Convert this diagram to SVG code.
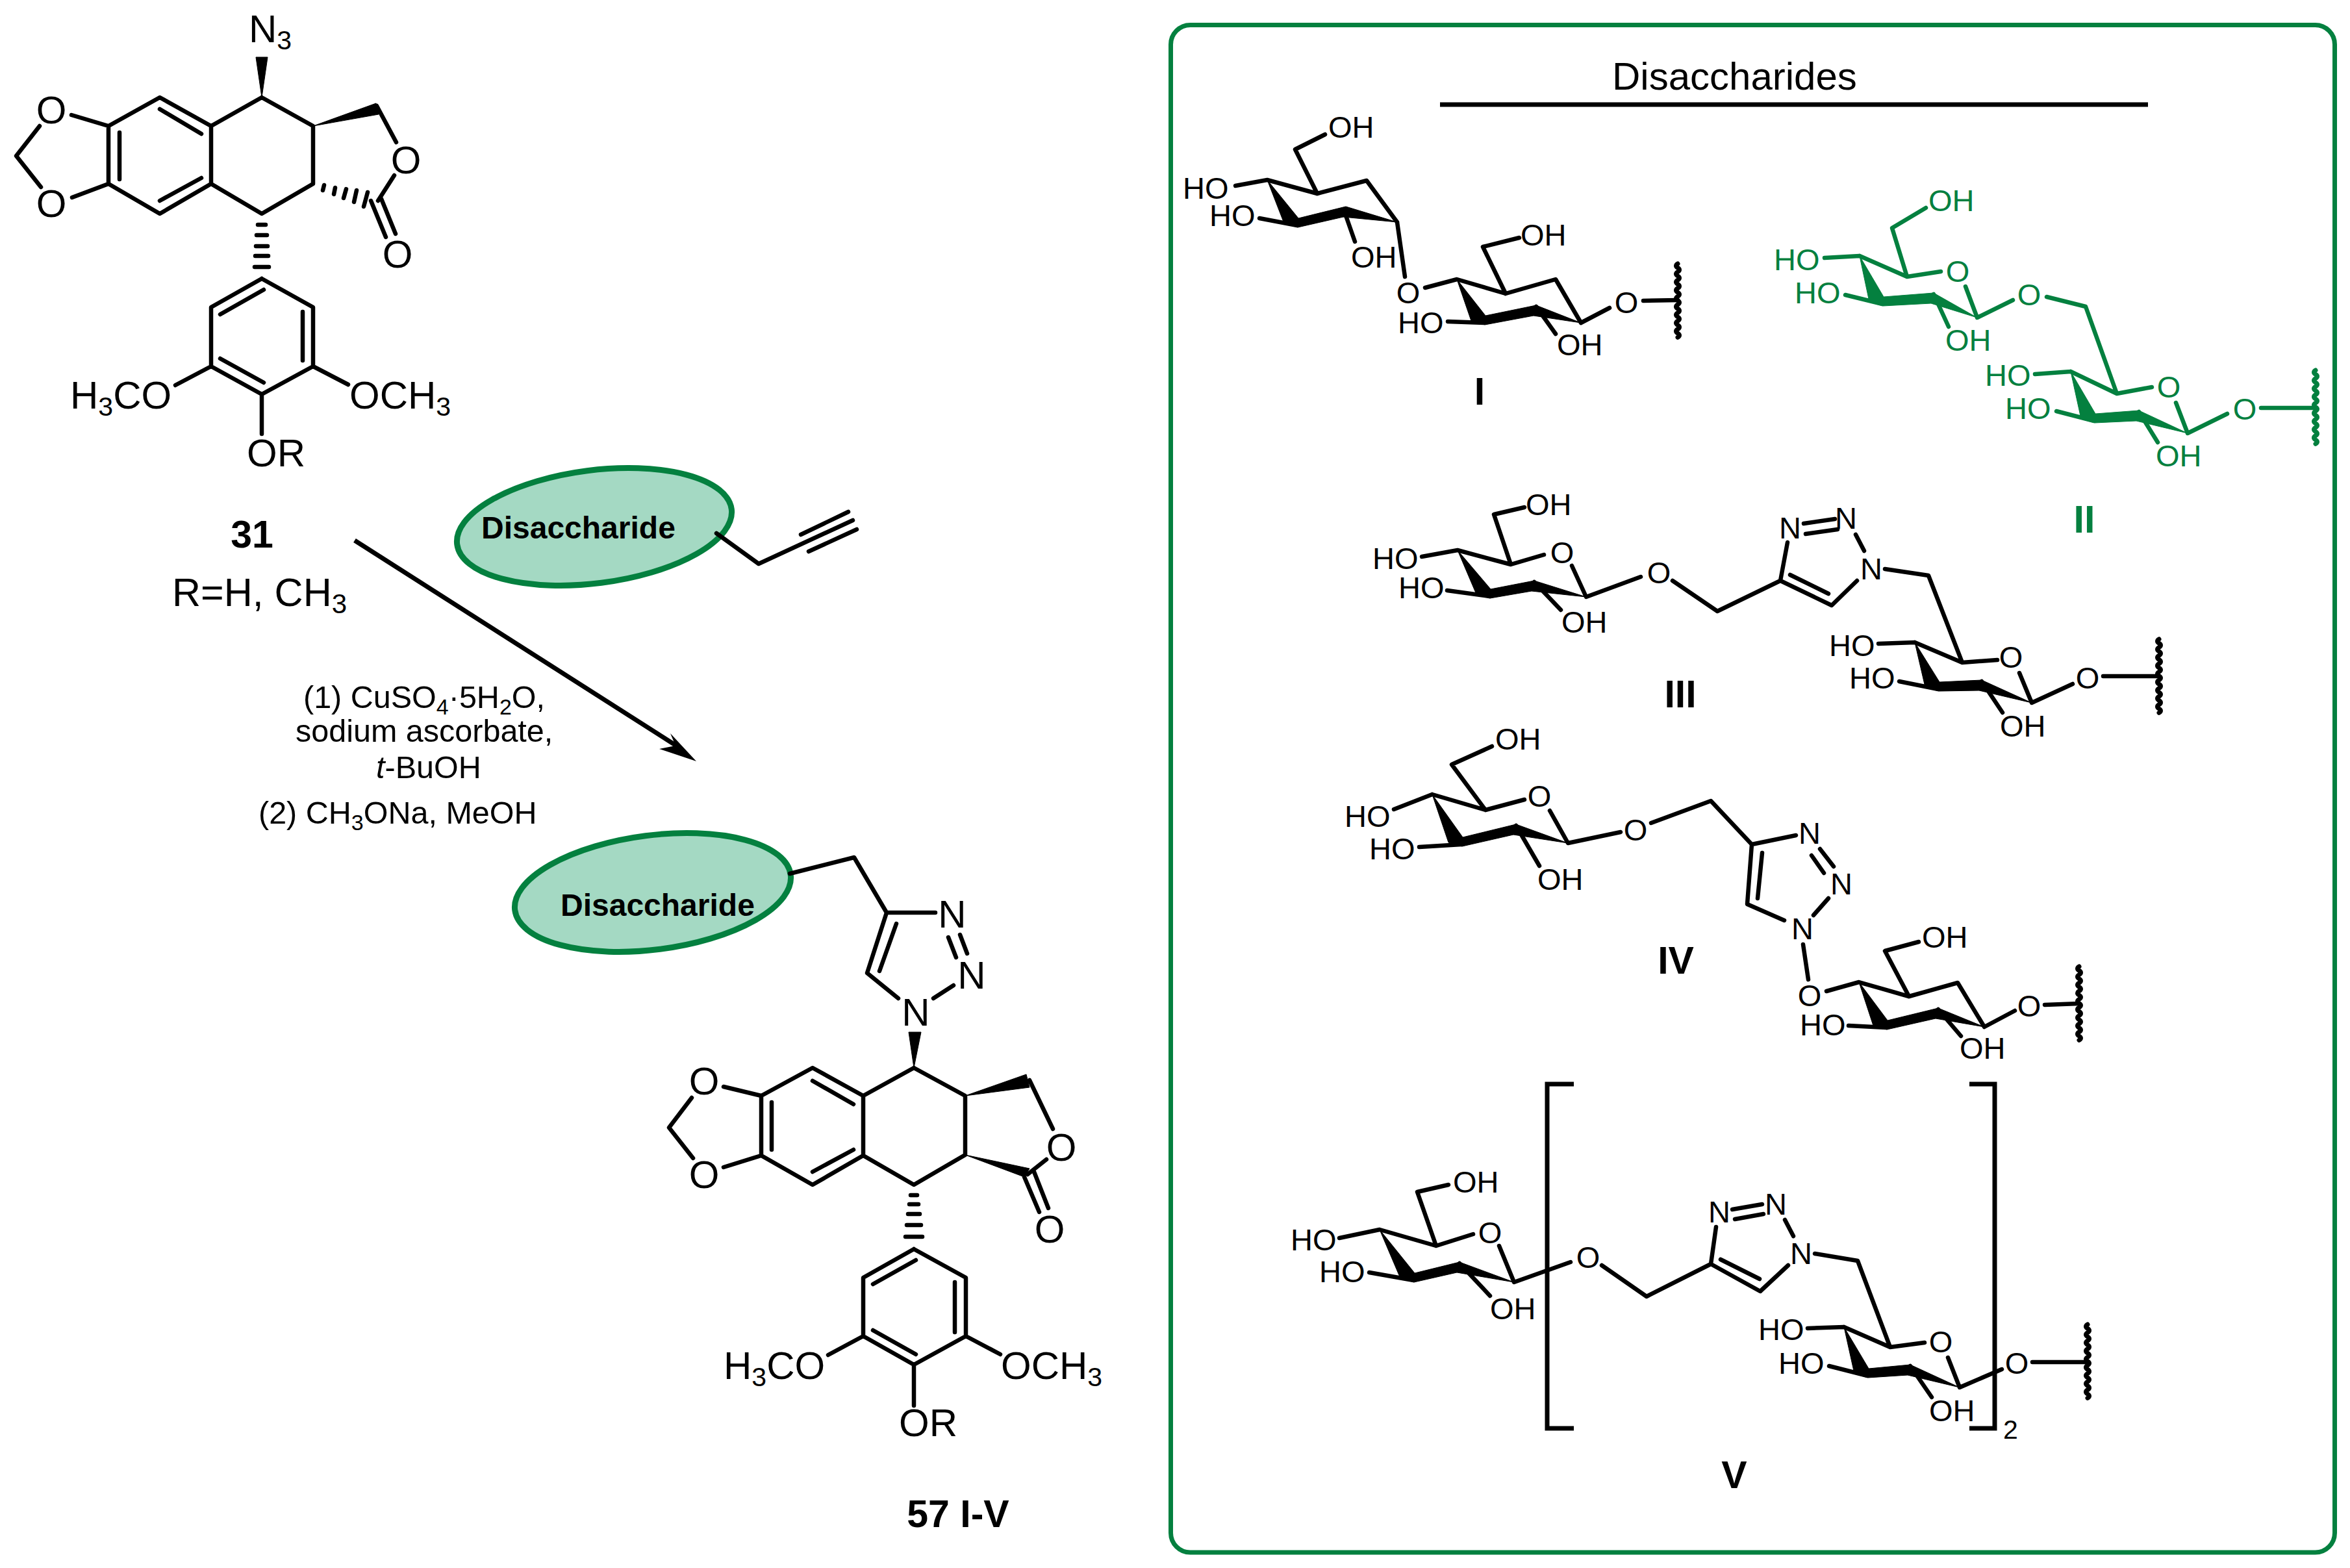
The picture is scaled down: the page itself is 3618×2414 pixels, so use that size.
<svg xmlns="http://www.w3.org/2000/svg" width="3618" height="2414" viewBox="0 0 3618 2414">
<style>
text{font-family:"Liberation Sans",Arial,sans-serif;fill:currentColor}
.b{fill:none;stroke:currentColor;stroke-width:6.5;stroke-linecap:round;stroke-linejoin:round}
.p{fill:none;stroke:currentColor;stroke-width:6.5;stroke-linecap:round;stroke-linejoin:round}
.w{fill:currentColor;stroke:currentColor;stroke-width:1;stroke-linejoin:round}
.f58{font-size:60px}.f60{font-size:61px}.f48{font-size:48.5px}.f46{font-size:47px}
.sub{font-size:41px}.s34{font-size:34px}
.lb{font-size:59px;font-weight:bold;text-anchor:middle}
.m{text-anchor:middle}
.e{fill:#a4d9c3;stroke:#04803f;stroke-width:9}
.dt{font-size:48px;font-weight:bold}
.g{color:#04803f}
</style>
<defs>
<path id="wavy" fill="none" stroke="currentColor" stroke-width="7" stroke-linecap="round" d="M0 0q-5 3.1 0 6.3q5 3.1 0 6.3q-5 3.1 0 6.3q5 3.1 0 6.3q-5 3.1 0 6.3q5 3.1 0 6.3q-5 3.1 0 6.3q5 3.1 0 6.3q-5 3.1 0 6.3q5 3.1 0 6.3q-5 3.1 0 6.3q5 3.1 0 6.3q-5 3.1 0 6.3q5 3.1 0 6.3q-5 3.1 0 6.3q5 3.1 0 6.3q-5 3.1 0 6.3q5 3.1 0 6.3"/>
</defs>
<g id="compound-31">
<path class="b" d="M403 150L482 194L482 283L403 329L325 283L325 194L403 150M325 194L246 150L167 194L167 283L246 329L325 283M110 177L167 194M111 304L167 283M61 194L25 240L63 288M246 168L310 206M184 204L184 276M246 309L310 274M580 163L610 219M607 270L582 309M571 309L594 365M587 306L609 360M403 429L482 473L482 564L403 607L325 564L325 473L403 429M339 484L406 446M466 480L466 555M339 552L406 589M325 564L270 593M482 564L536 592M403 607L403 668M397 346L409 346M395 362L411 362M394 379L412 379M393 394L413 394M392 411L414 411M499 285L497 293M516 289L514 299M533 291L529 305M549 293L545 311M566 296L560 318"/>
<polygon class="w" points="403,150 394,88 412,88"/>
<polygon class="w" points="482,194 579,159 583,176"/>
<text class="f58" x="383" y="65">N<tspan class="sub" dy="11">3</tspan></text>
<text class="f58 m" x="79" y="190">O</text>
<text class="f58 m" x="79" y="334">O</text>
<text class="f58 m" x="625" y="267">O</text>
<text class="f58 m" x="612" y="412">O</text>
<text class="f58" x="108" y="629">H<tspan class="sub" dy="11">3</tspan><tspan dy="-11">CO</tspan></text>
<text class="f58" x="538" y="629">OCH<tspan class="sub" dy="11">3</tspan></text>
<text class="f58" x="380" y="718">OR</text>
<text class="lb" x="388" y="843">31</text>
<text class="f60" x="265" y="933">R=H, CH<tspan font-size="42" dy="11">3</tspan></text>
</g>
<g id="alkyne">
<ellipse class="e" cx="915" cy="811" rx="213" ry="87" transform="rotate(-7.3 915 811)"/>
<text class="dt" x="741" y="829">Disaccharide</text>
<path class="b" d="M1103 821L1168 868L1313 801M1233 823L1306 788M1245 849L1319 815"/>
</g>
<g id="reaction">
<line x1="546" y1="832" x2="1049" y2="1153" stroke="#000" stroke-width="7"/>
<polygon points="1072,1172 1032,1129 1040,1148 1015,1153"/>
<text class="f48" x="467" y="1090">(1) CuSO<tspan class="s34" dy="10">4</tspan><tspan dy="-10">·5H</tspan><tspan class="s34" dy="10">2</tspan><tspan dy="-10">O,</tspan></text>
<text class="f48" x="455" y="1142">sodium ascorbate,</text>
<text class="f48" x="579" y="1198"><tspan font-style="italic">t</tspan>-BuOH</text>
<text class="f48" x="398" y="1268">(2) CH<tspan class="s34" dy="10">3</tspan><tspan dy="-10">ONa, MeOH</tspan></text>
</g>
<g id="compound-57">
<ellipse class="e" cx="1005" cy="1374" rx="214" ry="88" transform="rotate(-7.3 1005 1374)"/>
<text class="dt" x="863" y="1410">Disaccharide</text>
<path class="b" d="M1216 1345L1315 1320L1365 1405L1440 1405M1460 1443L1472 1474M1478 1439L1489 1468M1468 1517L1437 1537M1365 1405L1335 1498L1383 1537M1380 1422L1354 1495M1407 1644L1486 1687L1486 1778L1407 1824L1329 1779L1329 1687L1407 1644M1329 1687L1251 1644L1172 1687L1172 1779L1251 1824L1329 1779M1114 1673L1172 1687M1114 1797L1172 1779M1065 1690L1030 1736L1067 1783M1251 1664L1314 1700M1188 1697L1188 1770M1251 1804L1314 1770M1585 1663L1621 1738M1611 1785L1582 1808M1577 1812L1600 1866M1592 1804L1614 1860M1407 1923L1487 1967L1487 2057L1407 2101L1329 2057L1329 1967L1407 1923M1344 1977L1410 1940M1470 1974L1470 2051M1344 2048L1410 2085M1329 2057L1275 2086M1487 2057L1540 2085M1407 2101L1407 2164M1402 1840L1412 1840M1400 1854L1414 1854M1398 1869L1416 1869M1396 1886L1418 1886M1394 1904L1420 1904"/>
<polygon class="w" points="1407,1644 1399,1589 1418,1589"/>
<polygon class="w" points="1486,1687 1580,1654 1585,1674"/>
<polygon class="w" points="1486,1778 1585,1799 1577,1812"/>
<text class="f58 m" x="1466" y="1428">N</text>
<text class="f58 m" x="1496" y="1522">N</text>
<text class="f58 m" x="1410" y="1579">N</text>
<text class="f58 m" x="1084" y="1685">O</text>
<text class="f58 m" x="1084" y="1829">O</text>
<text class="f58 m" x="1634" y="1787">O</text>
<text class="f58 m" x="1616" y="1913">O</text>
<text class="f58" x="1114" y="2123">H<tspan class="sub" dy="11">3</tspan><tspan dy="-11">CO</tspan></text>
<text class="f58" x="1541" y="2123">OCH<tspan class="sub" dy="11">3</tspan></text>
<text class="f58" x="1384" y="2211">OR</text>
<text class="lb" x="1475" y="2351">57 I-V</text>
</g>
<g id="panel">
<rect x="1802.5" y="38.5" width="1792" height="2351.5" rx="30" fill="none" stroke="#04803f" stroke-width="7"/>
<text class="f60" x="2482" y="138" style="font-size:60px">Disaccharides</text>
<line x1="2217" y1="161" x2="3307" y2="161" stroke="#000" stroke-width="7"/>
</g>
<g id="disaccharide-I">
<path class="p" d="M1951 277L2028 298L2104 278L2151 342M2028 298L1994 230L2040 207M1902 286L1951 277M1939 336L1997 347M2072 332L2086 372M2151 342L2163 426M2194 443L2243 430L2318 452L2395 430L2434 497M2318 452L2283 380L2339 366M2229 495L2285 497M2365 472L2395 514M2434 497L2478 474M2530 463L2583 462"/>
<polygon class="w" points="1951,277 1977,344 1998,350 2068,334 2151,342 2072,318 1999,336"/>
<polygon class="w" points="2243,430 2265,494 2286,500 2361,486 2434,497 2365,470 2287,486"/>
<use href="#wavy" x="2583" y="406"/>
<text class="f46" x="2045" y="212">OH</text>
<text class="f46" x="1821" y="306">HO</text>
<text class="f46" x="1862" y="348">HO</text>
<text class="f46" x="2080" y="412">OH</text>
<text class="f46 m" x="2168" y="467">O</text>
<text class="f46" x="2341" y="378">OH</text>
<text class="f46" x="2152" y="513">HO</text>
<text class="f46" x="2397" y="547">OH</text>
<text class="f46 m" x="2504" y="482">O</text>
<text class="lb" x="2278" y="623">I</text>
</g>
<g id="disaccharide-II" class="g">
<path class="p" d="M2863 394L2936 426L2988 418M2936 426L2913 351L2965 320M2809 397L2863 394M2841 454L2898 468M2977 453L3000 503M3026 441L3044 489L3099 462M3151 457L3211 472L3259 606M3188 572L3259 606L3313 596M3350 620L3368 667L3429 637M3133 576L3188 572M3166 633L3224 648M3293 634L3322 681M3481 628L3565 628"/>
<polygon class="w" points="2863,394 2878,465 2899,471 2973,467 3044,489 2977,451 2900,457"/>
<polygon class="w" points="3188,572 3204,645 3225,651 3289,648 3368,667 3293,632 3226,637"/>
<use href="#wavy" x="3565" y="570"/>
<text class="f46" x="2969" y="325">OH</text>
<text class="f46" x="2731" y="416">HO</text>
<text class="f46" x="2763" y="467">HO</text>
<text class="f46" x="2995" y="540">OH</text>
<text class="f46 m" x="3014" y="434">O</text>
<text class="f46 m" x="3124" y="470">O</text>
<text class="f46" x="3056" y="594">HO</text>
<text class="f46" x="3087" y="645">HO</text>
<text class="f46" x="3319" y="718">OH</text>
<text class="f46 m" x="3339" y="612">O</text>
<text class="f46 m" x="3456" y="646">O</text>
<text class="lb" x="3209" y="820">II</text>
</g>
<g id="disaccharide-III">
<path class="p" d="M2244 847L2326 869L2377 854M2326 869L2300 792L2347 781M2189 857L2244 847M2228 909L2293 918M2362 896L2403 939M2420 871L2442 919L2526 888M2575 894L2644 941L2741 894L2752 835M2777 806L2825 799M2780 822L2829 815M2857 823L2870 848M2859 894L2820 932L2741 894M2815 914L2756 885M2902 876L2969 886L3021 1020M2948 989L3021 1020L3075 1016M3109 1036L3128 1082L3191 1053M2892 991L2948 989M2924 1049L2984 1061M3051 1049L3083 1097M3238 1041L3324 1041"/>
<polygon class="w" points="2244,847 2273,915 2294,921 2358,910 2442,919 2362,894 2295,907"/>
<polygon class="w" points="2948,989 2964,1058 2985,1064 3047,1063 3128,1082 3051,1047 2986,1050"/>
<use href="#wavy" x="3324" y="984"/>
<text class="f46" x="2349" y="793">OH</text>
<text class="f46" x="2113" y="876">HO</text>
<text class="f46" x="2153" y="921">HO</text>
<text class="f46" x="2404" y="974">OH</text>
<text class="f46 m" x="2405" y="867">O</text>
<text class="f46 m" x="2554" y="898">O</text>
<text class="f46 m" x="2756" y="829">N</text>
<text class="f46 m" x="2842" y="814">N</text>
<text class="f46 m" x="2881" y="892">N</text>
<text class="f46" x="2816" y="1010">HO</text>
<text class="f46" x="2847" y="1060">HO</text>
<text class="f46" x="3079" y="1134">OH</text>
<text class="f46 m" x="3096" y="1028">O</text>
<text class="f46 m" x="3214" y="1060">O</text>
<text class="lb" x="2587" y="1089">III</text>
</g>
<g id="disaccharide-IV">
<path class="p" d="M2205 1223L2287 1247L2347 1231M2287 1247L2235 1177L2297 1149M2146 1246L2205 1223M2185 1304L2250 1300M2334 1271L2370 1333M2386 1248L2414 1298L2495 1281M2542 1267L2634 1233L2697 1300L2765 1286M2802 1307L2823 1334M2789 1317L2808 1344M2815 1383L2792 1409M2747 1417L2690 1392L2697 1300M2713 1313L2706 1383M2776 1454L2784 1508M2812 1526L2862 1512L2939 1534L3014 1513L3055 1581M2939 1534L2902 1464L2954 1450M2846 1579L2904 1582M2984 1554L3019 1595M3055 1581L3102 1556M3148 1547L3201 1545"/>
<polygon class="w" points="2205,1223 2230,1297 2251,1303 2330,1285 2414,1298 2334,1269 2252,1289"/>
<polygon class="w" points="2862,1512 2884,1579 2905,1585 2980,1568 3055,1581 2984,1552 2906,1571"/>
<use href="#wavy" x="3201" y="1488"/>
<text class="f46" x="2302" y="1154">OH</text>
<text class="f46" x="2070" y="1273">HO</text>
<text class="f46" x="2108" y="1323">HO</text>
<text class="f46" x="2367" y="1370">OH</text>
<text class="f46 m" x="2370" y="1242">O</text>
<text class="f46 m" x="2518" y="1294">O</text>
<text class="f46 m" x="2786" y="1299">N</text>
<text class="f46 m" x="2835" y="1377">N</text>
<text class="f46 m" x="2775" y="1446">N</text>
<text class="f46 m" x="2786" y="1549">O</text>
<text class="f46" x="2959" y="1459">OH</text>
<text class="f46" x="2771" y="1594">HO</text>
<text class="f46" x="3017" y="1630">OH</text>
<text class="f46 m" x="3124" y="1565">O</text>
<text class="lb" x="2580" y="1499">IV</text>
</g>
<g id="disaccharide-V">
<path class="p" d="M2124 1893L2211 1918L2268 1900M2211 1918L2182 1835L2230 1824M2062 1906L2124 1893M2108 1959L2176 1971M2247 1945L2294 1995M2308 1918L2331 1974L2418 1943M2466 1948L2535 1996L2634 1946L2642 1889M2667 1862L2713 1854M2671 1877L2715 1869M2748 1878L2761 1903M2753 1948L2710 1988L2634 1946M2709 1969L2649 1939M2794 1930L2860 1941L2910 2074M2839 2043L2910 2074L2963 2067M2999 2090L3017 2136L3082 2108M2783 2045L2839 2043M2816 2103L2875 2118M2941 2103L2974 2151M3129 2097L3214 2097"/>
<polygon class="w" points="2124,1893 2156,1968 2177,1974 2243,1959 2331,1974 2247,1943 2178,1960"/>
<polygon class="w" points="2839,2043 2855,2115 2876,2121 2937,2117 3017,2136 2941,2101 2877,2107"/>
<path d="M2423 1669L2382 1669L2382 2199L2423 2199M3032 1669L3071 1669L3071 2199L3032 2199" fill="none" stroke="#000" stroke-width="7"/>
<use href="#wavy" x="3214" y="2039"/>
<text class="sub" x="3084" y="2215">2</text>
<text class="f46" x="2237" y="1836">OH</text>
<text class="f46" x="1987" y="1925">HO</text>
<text class="f46" x="2031" y="1974">HO</text>
<text class="f46" x="2294" y="2031">OH</text>
<text class="f46 m" x="2294" y="1914">O</text>
<text class="f46 m" x="2445" y="1952">O</text>
<text class="f46 m" x="2647" y="1882">N</text>
<text class="f46 m" x="2734" y="1870">N</text>
<text class="f46 m" x="2773" y="1946">N</text>
<text class="f46" x="2707" y="2063">HO</text>
<text class="f46" x="2738" y="2115">HO</text>
<text class="f46" x="2970" y="2188">OH</text>
<text class="f46 m" x="2988" y="2082">O</text>
<text class="f46 m" x="3105" y="2115">O</text>
<text class="lb" x="2670" y="2291">V</text>
</g>
</svg>
